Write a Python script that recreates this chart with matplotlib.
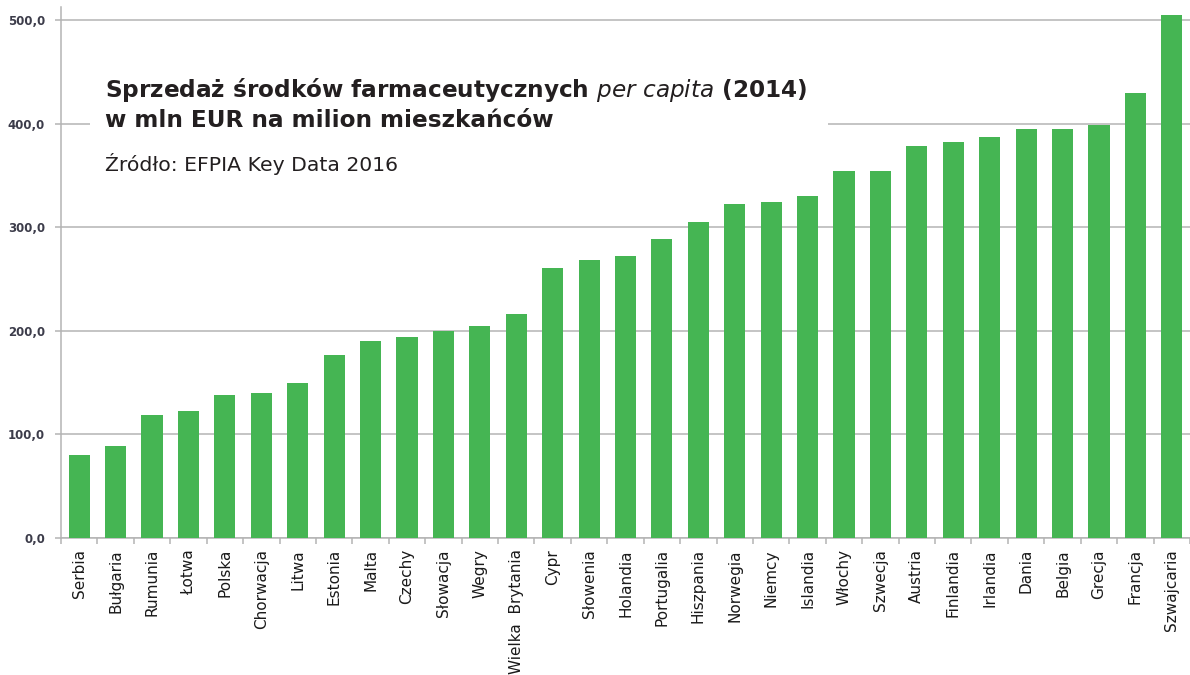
import matplotlib.pyplot as plt
from matplotlib.patches import Rectangle
from matplotlib.ticker import FuncFormatter, MultipleLocator
import numpy as np

countries = ["Serbia", "Bułgaria", "Rumunia", "Łotwa", "Polska", "Chorwacja", "Litwa",
             "Estonia", "Malta", "Czechy", "Słowacja", "Wegry", "Wielka  Brytania", "Cypr",
             "Słowenia", "Holandia", "Portugalia", "Hiszpania", "Norwegia", "Niemcy",
             "Islandia", "Włochy", "Szwecja", "Austria", "Finlandia", "Irlandia", "Dania",
             "Belgia", "Grecja", "Francja", "Szwajcaria"]
sales = [80, 89, 119, 123, 138, 140, 150, 177, 190, 194, 200, 205, 216, 261, 269, 272,
         289, 305, 323, 325, 330, 355, 355, 379, 383, 387, 395, 395, 399, 430, 505]

bar_color = "#45b553"
grid_color = "#b4b4b4"
label_color = "#3c3c4a"

fig = plt.figure(figsize=(11.9, 6.75), dpi=100)
ax = fig.add_axes([61 / 1190, 1 - 538 / 675, 1129 / 1190, 531 / 675])

x = np.arange(len(countries))
ax.bar(x, sales, width=0.58, color=bar_color, zorder=3)

ax.set_xlim(-0.5, len(countries) - 0.5)
ax.set_ylim(0, 513)
ax.yaxis.set_major_locator(MultipleLocator(100))
ax.yaxis.set_major_formatter(FuncFormatter(lambda v, p: f"{v:.1f}".replace(".", ",")))
ax.grid(axis="y", color=grid_color, linewidth=1.1, zorder=0)

for s in ["top", "right"]:
    ax.spines[s].set_visible(False)
for s in ["left", "bottom"]:
    ax.spines[s].set_color(grid_color)
    ax.spines[s].set_linewidth(1.1)

ax.tick_params(axis="y", length=4.5, color=grid_color, width=1.1, pad=7,
               labelsize=8.5, labelcolor=label_color)
for t in ax.get_yticklabels():
    t.set_fontweight("bold")

ax.set_xticks(x)
ax.set_xticklabels(countries, rotation=90, fontsize=11, color="#1a1a1a")
ax.set_xticks(np.arange(len(countries) + 1) - 0.5, minor=True)
ax.tick_params(axis="x", which="major", length=0, pad=8)
ax.tick_params(axis="x", which="minor", length=4.5, color=grid_color, width=1.1)

# white panel behind the heading
fig.add_artist(Rectangle((90 / 1190, 1 - 190 / 675), 738 / 1190, 130 / 675,
                         transform=fig.transFigure, facecolor="white",
                         edgecolor="none", zorder=2))

fig.text(105 / 1190, 1 - 97 / 675,
         r"Sprzedaż środków farmaceutycznych $\mathbf{\it{per\ capita}}$ (2014)",
         fontsize=16.7, fontweight="bold", color="#231f20", zorder=3, va="baseline")
fig.text(105 / 1190, 1 - 127 / 675, "w mln EUR na milion mieszkańców",
         fontsize=16.7, fontweight="bold", color="#231f20", zorder=3, va="baseline")
fig.text(105 / 1190, 1 - 171 / 675, "Źródło: EFPIA Key Data 2016",
         fontsize=14.7, color="#231f20", zorder=3, va="baseline")

fig.savefig("out.png", dpi=100, facecolor="white")
